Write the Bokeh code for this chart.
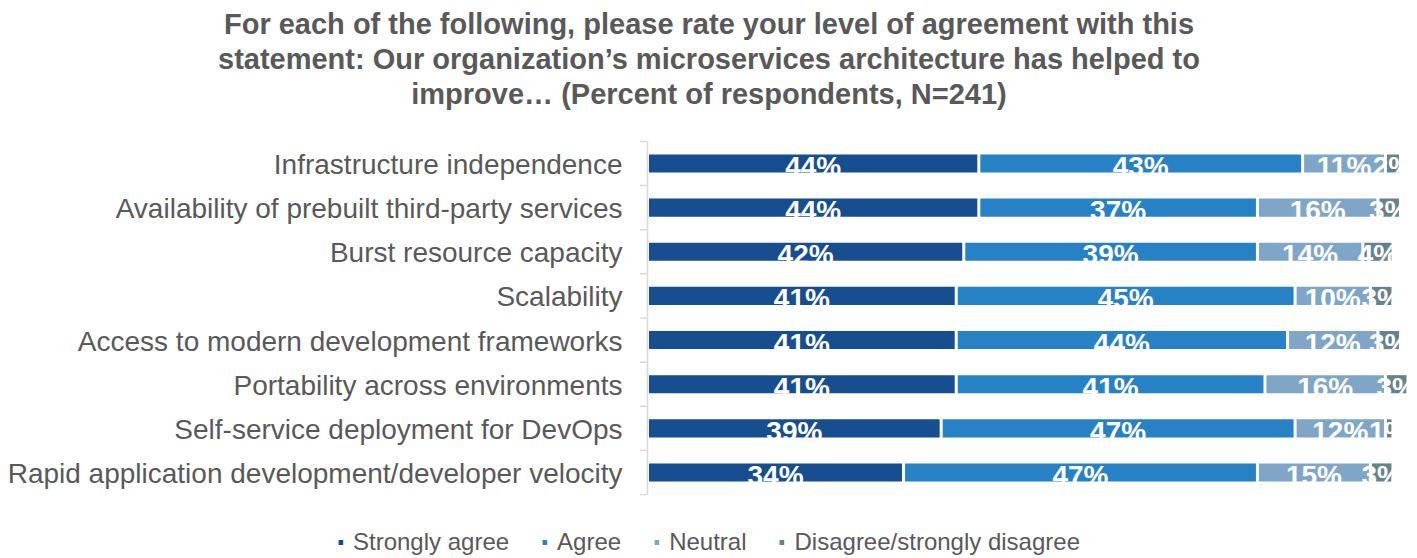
from bokeh.plotting import figure
from bokeh.models import Range1d, ColumnDataSource, Legend, LegendItem
from bokeh.core.properties import value
from bokeh.embed import file_html
from bokeh.resources import INLINE

categories = [
    "Infrastructure independence",
    "Availability of prebuilt third-party services",
    "Burst resource capacity",
    "Scalability",
    "Access to modern development frameworks",
    "Portability across environments",
    "Self-service deployment for DevOps",
    "Rapid application development/developer velocity",
]
strongly_agree = [44, 44, 42, 41, 41, 41, 39, 34]
agree = [43, 37, 39, 45, 44, 41, 47, 47]
neutral = [11, 16, 14, 10, 12, 16, 12, 15]
disagree = [2, 3, 4, 3, 3, 3, 1, 3]
series_names = ["Strongly agree", "Agree", "Neutral", "Disagree/strongly disagree"]
title_lines = [
    "For each of the following, please rate your level of agreement with this",
    "statement: Our organization\u2019s microservices architecture has helped to",
    "improve\u2026 (Percent of respondents, N=241)",
]

colors = ["#174E8F", "#2781C5", "#7FA6C7", "#65838A"]
FONT = "Liberation Sans"
GRAY = "#595959"

W, H = 1417, 558
# horizontal mapping: value 0 at x 647, 100 at x 1400
ppu_x = (1400 - 647) / 100.0
x_start = -647 / ppu_x
x_end = x_start + W / ppu_x
# vertical mapping: 44.14 px per row, top row centre at y 163
n = len(categories)
ppu_y = 44.14
y_top = (n - 1) + 163 / ppu_y
y_bottom = y_top - H / ppu_y


def ypx(py):
    return y_top - py / ppu_y


p = figure(width=W, height=H, output_backend="svg", toolbar_location=None,
           x_range=Range1d(x_start, x_end), y_range=Range1d(y_bottom, y_top),
           min_border=0, min_border_left=0, min_border_right=0,
           min_border_top=0, min_border_bottom=0)
p.axis.visible = False
p.grid.visible = False
p.outline_line_color = None
p.background_fill_color = "white"
p.border_fill_color = "white"

ys = [n - 1 - i for i in range(n)]
series = [strongly_agree, agree, neutral, disagree]

gap = 0.2
cum = [0.0] * n
renderers = []
label_x, label_y, label_t = [], [], []
for name, vals, col in zip(series_names, series, colors):
    lefts = [c + gap for c in cum]
    rights = [c + v - gap for c, v in zip(cum, vals)]
    src = ColumnDataSource(dict(y=ys, left=lefts, right=rights))
    r = p.hbar(y="y", left="left", right="right", height=0.41, source=src,
               fill_color=col, line_color=None)
    renderers.append((name, r))
    for i, v in enumerate(vals):
        label_x.append(cum[i] + v / 2.0)
        label_y.append(ys[i])
        label_t.append(f"{v}%")
    cum = [c + v for c, v in zip(cum, vals)]

p.text(x=label_x, y=label_y, text=label_t, text_color="white",
       text_font=value(FONT), text_font_style="bold", text_font_size="28px",
       text_align="center", text_baseline="middle", y_offset=3)

# axis line and category boundary ticks
p.segment(x0=[0], x1=[0], y0=[-0.5], y1=[n - 0.5], line_color="#D9D9D9", line_width=1.5)
bounds = [b - 0.5 for b in range(n + 1)]
p.segment(x0=[-1.0] * len(bounds), x1=[0] * len(bounds), y0=bounds, y1=bounds,
          line_color="#D9D9D9", line_width=1.5)

# category labels
p.text(x=[-25 / ppu_x] * n, y=ys, text=categories, text_color=GRAY,
       text_font=value(FONT), text_font_size="28px",
       text_align="right", text_baseline="middle", y_offset=1)

# title
xc = (x_start + x_end) / 2.0
p.text(x=[xc] * 3, y=[ypx(23), ypx(58), ypx(93)], text=title_lines,
       text_color=GRAY, text_font=value(FONT), text_font_style="bold",
       text_font_size="29px", text_align="center", text_baseline="middle")

legend = Legend(items=[LegendItem(label=nm, renderers=[r]) for nm, r in renderers],
                location="bottom_center", orientation="horizontal",
                glyph_width=6, glyph_height=6, label_standoff=10, spacing=32,
                label_text_font=FONT, label_text_font_size="24px",
                label_text_color=GRAY, border_line_color=None,
                background_fill_alpha=0, margin=2, padding=0)
p.add_layout(legend, "center")

open("out.html", "w").write(file_html(p, INLINE))
